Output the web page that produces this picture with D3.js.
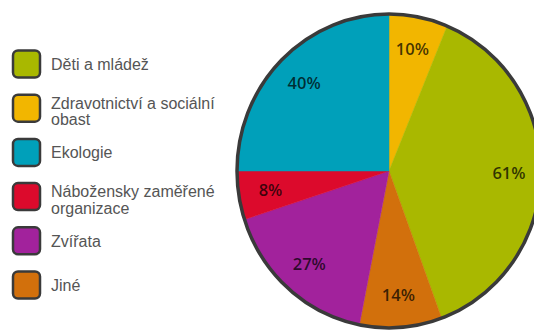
<!DOCTYPE html>
<html>
<head>
<meta charset="utf-8">
<script src="https://cdn.jsdelivr.net/npm/d3@7"></script>
<style>
  body { margin: 0; background: #fff; }
</style>
</head>
<body>
<div id="chart"></div>
<script>
// data
const categories = ["Děti a mládež", "Zdravotnictví a sociální obast", "Ekologie",
    "Nábožensky zaměřené organizace", "Zvířata", "Jiné"];
const values = [61, 10, 40, 8, 27, 14];
// clockwise order of slices, starting at 12 o'clock
const pieOrder = ["Zdravotnictví a sociální obast", "Děti a mládež", "Jiné", "Zvířata",
    "Nábožensky zaměřené organizace", "Ekologie"];

const width = 534, height = 333;

const svg = d3.select("#chart")
    .append("svg")
    .attr("width", width)
    .attr("height", height);

const color = d3.scaleOrdinal()
    .domain(categories)
    .range(["#a9b800", "#f2b600", "#00a0ba", "#dc0a2c", "#a2229c", "#d2700c"]);

const valueOf = new Map(categories.map((c, i) => [c, values[i]]));
const pieData = pieOrder.map(c => ({name: c, value: valueOf.get(c)}));

// pie (slightly taller than wide, like the original)
const cx = 389, cy = 171, rx = 152, ry = 157;
const sy = ry / rx;

const pie = d3.pie().sort(null).value(d => d.value);
const arc = d3.arc().innerRadius(0).outerRadius(rx);
const labelArc = d3.arc().innerRadius(120).outerRadius(120);
const arcs = pie(pieData);

const pieG = svg.append("g")
    .attr("transform", `translate(${cx},${cy}) scale(1,${sy})`);

pieG.selectAll("path.slice")
    .data(arcs)
    .join("path")
    .attr("class", "slice")
    .attr("d", arc)
    .attr("fill", d => color(d.data.name))
    .attr("stroke", d => color(d.data.name))
    .attr("stroke-width", 0.5);

pieG.append("circle")
    .attr("r", rx)
    .attr("fill", "none")
    .attr("stroke", "#3a3a3a")
    .attr("stroke-width", 3.5)
    .attr("vector-effect", "non-scaling-stroke");

svg.selectAll("text.pct")
    .data(arcs)
    .join("text")
    .attr("class", "pct")
    .attr("x", d => cx + labelArc.centroid(d)[0])
    .attr("y", d => cy + labelArc.centroid(d)[1] * sy)
    .attr("dy", "0.36em")
    .attr("text-anchor", "middle")
    .style("font-family", "'Open Sans', sans-serif")
    .style("font-weight", 600)
    .style("font-size", "16.5px")
    .style("fill", "#000")
    .style("fill-opacity", 0.72)
    .text(d => d.data.value + "%");

// legend
const legend = svg.append("g").attr("class", "legend");
const items = legend.selectAll("g.item")
    .data(categories)
    .join("g")
    .attr("class", "item")
    .attr("transform", (d, i) => `translate(0,${64 + i * 44.2})`);

items.append("rect")
    .attr("x", 13)
    .attr("y", -13.5)
    .attr("width", 27)
    .attr("height", 27)
    .attr("rx", 5)
    .attr("fill", d => color(d))
    .attr("stroke", "#3a3a3a")
    .attr("stroke-width", 2.5);

items.each(function(d) {
    const g = d3.select(this);
    const text = g.append("text")
        .attr("x", 51)
        .style("font-family", "'Liberation Sans', Arial, sans-serif")
        .style("font-size", "16px")
        .style("fill", "#555");
    // word wrap at ~170px
    const words = d.split(" ");
    const lines = [];
    let line = [];
    const probe = text.append("tspan");
    words.forEach(w => {
        const test = line.concat(w).join(" ");
        probe.text(test);
        if (probe.node().getComputedTextLength() > 170 && line.length) {
            lines.push(line.join(" "));
            line = [w];
        } else {
            line.push(w);
        }
    });
    lines.push(line.join(" "));
    probe.remove();
    const y0 = lines.length === 1 ? 6 : 0.5;
    lines.forEach((l, i) => {
        text.append("tspan")
            .attr("x", 51)
            .attr("y", y0 + i * 16.5)
            .text(l);
    });
});
</script>
</body>
</html>
